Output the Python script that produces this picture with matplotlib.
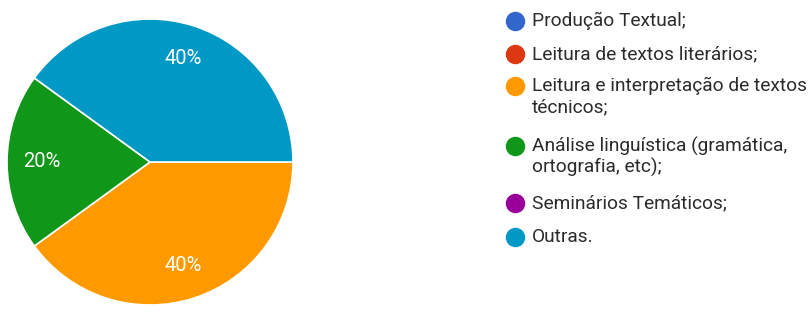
import matplotlib
matplotlib.use("Agg")
import matplotlib.pyplot as plt
from matplotlib.lines import Line2D

categories = [
    "Produção Textual;",
    "Leitura de textos literários;",
    "Leitura e interpretação de textos\ntécnicos;",
    "Análise linguística (gramática,\nortografia, etc);",
    "Seminários Temáticos;",
    "Outras.",
]
values = [0, 0, 40, 20, 0, 40]
colors = ["#3366cc", "#dc3912", "#ff9900", "#109618", "#990099", "#0099c6"]

plt.rcParams['font.family'] = ['Roboto', 'DejaVu Sans']

W, H = 809, 312
fig = plt.figure(figsize=(W / 100, H / 100), dpi=100)

# pie axes: center (150,162) px, radius 143 px
cx, cy, r = 150, 162, 143
ax = fig.add_axes([(cx - r) / W, (H - cy - r) / H, 2 * r / W, 2 * r / H])
pv = [v for v in values if v > 0]
pc = [c for v, c in zip(values, colors) if v > 0]
wedges, texts, autotexts = ax.pie(
    pv, colors=pc, startangle=0, counterclock=False, radius=1,
    autopct=lambda p: f"{p:.0f}%", pctdistance=0.76,
    wedgeprops=dict(edgecolor="white", linewidth=1.2),
    textprops=dict(color="white", fontsize=14.5),
)
ax.set_xlim(-1, 1)
ax.set_ylim(-1, 1)
ax.set_aspect("equal")

# legend drawn manually
marker_x = 515
text_x = 532
ys = [21, 54, 86, 146, 203, 237]
line_gap = 21
for cat, col, y in zip(categories, colors, ys):
    fig.add_artist(Line2D([marker_x / W], [1 - y / H], marker="o", markersize=13,
                          color=col, linestyle="none", transform=fig.transFigure))
    for i, line in enumerate(cat.split("\n")):
        fig.text(text_x / W, 1 - (y + i * line_gap) / H, line, fontsize=13.8,
                 color="#2b2b2b", va="center", ha="left")

fig.savefig("out.png", dpi=100, facecolor="white")
